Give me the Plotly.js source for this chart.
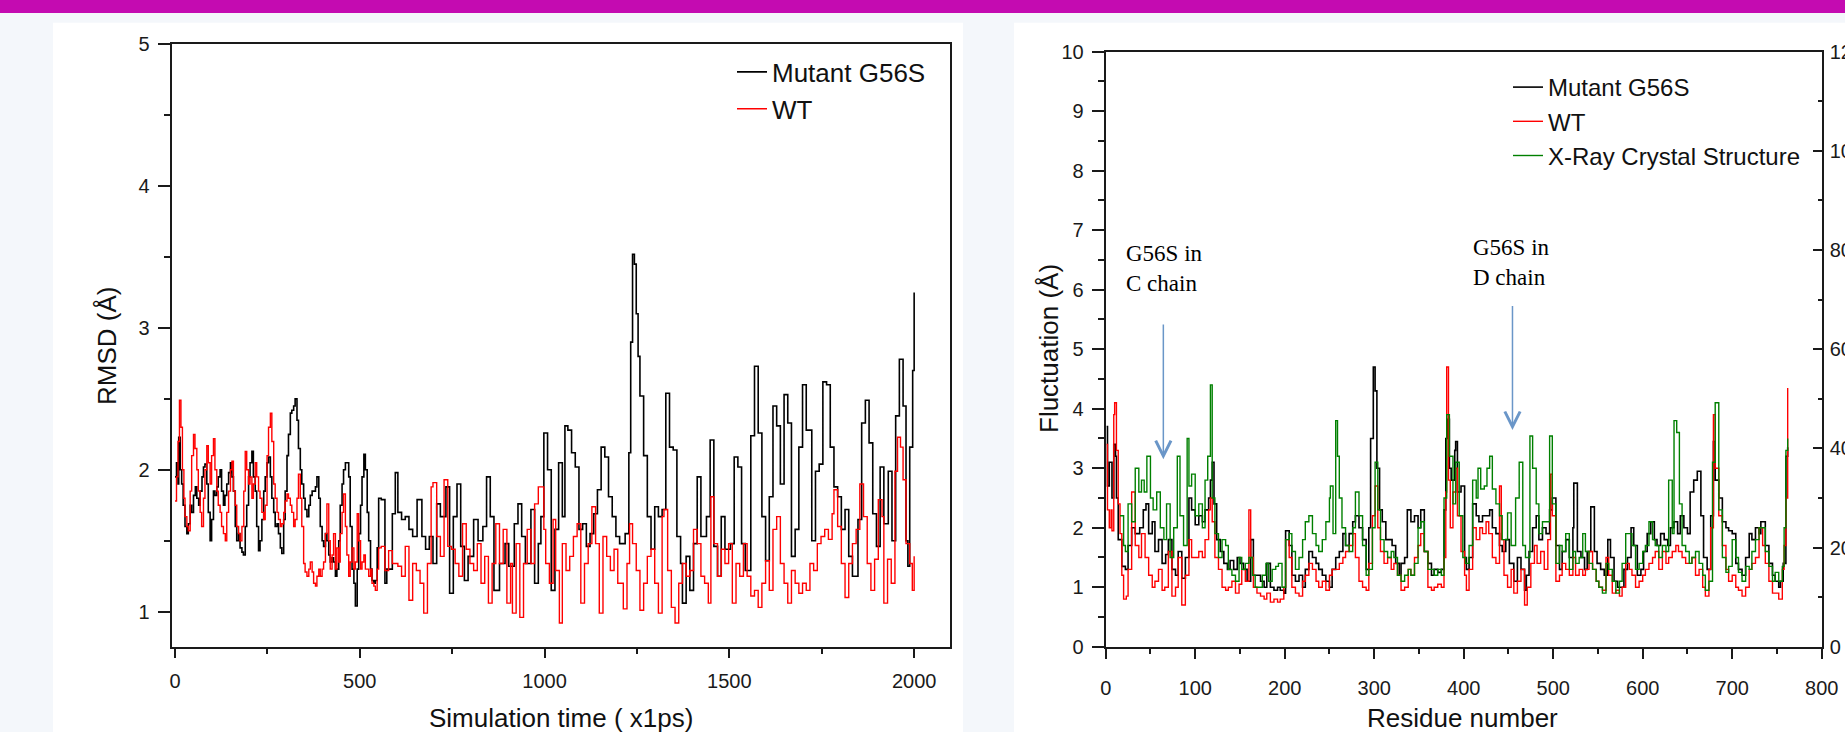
<!DOCTYPE html>
<html>
<head>
<meta charset="utf-8">
<script src="https://cdn.plot.ly/plotly-3.0.1.min.js"></script>
<style>
  html, body { margin: 0; padding: 0; background: #f4f7fb; }
  #chart { width: 1845px; height: 732px; }
</style>
</head>
<body>
<div id="chart"></div>
<script>
// ---------------- Left panel: RMSD vs simulation time ----------------
const rmsdTimeMutant = [
  0,4,8,10,14,18,22,27,32,36,
  41,45,50,55,59,64,68,73,77,81,
  86,90,95,99,104,108,113,117,122,126,
  131,135,140,145,150,154,158,163,167,172,
  176,181,185,190,194,199,203,208,212,217,
  221,226,230,235,240,244,249,253,258,262,
  267,271,276,280,285,289,294,298,303,307,
  312,316,321,325,330,334,339,343,348,352,
  357,362,366,371,375,380,384,389,393,398,
  402,407,411,416,420,425,429,434,438,443,
  447,452,456,461,465,470,474,479,484,488,
  493,497,502,506,511,515,520,524,529,533,
  538,542,547,551,558,568,573,588,596,603,
  613,623,633,643,655,668,678,688,698,708,
  718,733,743,753,763,773,783,793,808,820,
  833,843,853,863,878,893,903,918,928,938,
  948,963,973,983,990,998,1008,1018,1028,1038,
  1048,1055,1063,1073,1083,1093,1103,1113,1123,1133,
  1143,1153,1163,1173,1183,1193,1203,1218,1228,1233,
  1238,1243,1248,1253,1258,1268,1278,1288,1298,1308,
  1318,1328,1338,1348,1358,1368,1373,1383,1393,1403,
  1413,1423,1438,1448,1458,1468,1478,1488,1503,1513,
  1523,1533,1543,1558,1568,1578,1588,1598,1608,1618,
  1628,1638,1648,1658,1668,1678,1688,1698,1708,1723,
  1733,1743,1753,1763,1773,1783,1793,1803,1813,1823,
  1833,1848,1858,1868,1878,1888,1898,1908,1918,1930,
  1940,1950,1960,1970,1978,1983,1988,1996,2000
];
const rmsdMutant = [
  1.95,2.05,1.9,2.23,2.0,1.9,1.75,1.6,1.55,1.62,
  1.75,1.7,1.82,1.88,1.8,1.75,1.85,1.95,2.02,2.04,
  1.9,1.7,1.5,1.65,1.85,1.82,1.88,1.95,2.0,1.85,
  1.75,1.82,1.9,1.98,2.05,1.95,1.85,1.6,1.5,1.55,
  1.45,1.42,1.4,1.6,1.75,1.95,2.05,2.13,1.95,1.85,
  1.6,1.43,1.5,1.65,1.85,1.95,2.05,2.09,1.95,1.8,
  1.7,1.6,1.62,1.55,1.45,1.41,1.65,1.85,2.1,2.25,
  2.4,2.42,2.45,2.5,2.35,2.15,2.0,1.9,1.8,1.72,
  1.67,1.75,1.82,1.85,1.85,1.88,1.95,1.8,1.6,1.5,
  1.46,1.55,1.5,1.4,1.35,1.38,1.35,1.25,1.3,1.5,
  1.75,1.9,2.0,2.05,2.05,1.95,1.6,1.3,1.2,1.04,
  1.3,1.55,1.75,1.95,2.11,2.0,1.7,1.5,1.3,1.22,
  1.2,1.22,1.45,1.8,1.79,1.2,1.3,1.69,1.98,1.7,
  1.65,1.67,1.58,1.53,1.79,1.53,1.44,1.53,1.34,1.76,
  1.67,1.88,1.13,1.67,1.9,1.46,1.22,1.39,1.65,1.5,
  1.6,1.95,1.67,1.15,1.34,1.48,1.32,1.62,1.76,1.53,
  1.34,1.72,1.2,1.48,1.67,2.26,2.0,1.15,1.58,2.05,
  1.67,2.31,2.28,2.12,2.02,1.58,1.62,1.46,1.55,1.69,
  1.86,2.16,2.09,1.81,1.67,1.53,1.48,1.55,2.12,2.9,
  3.52,3.45,3.1,2.8,2.52,2.1,1.67,1.44,1.74,1.67,
  1.72,2.54,2.16,2.14,1.53,1.34,1.06,1.39,1.15,1.48,
  1.95,1.53,1.67,2.21,1.46,1.25,1.67,1.44,1.48,2.09,
  2.02,1.48,1.29,2.24,2.73,2.26,1.67,1.36,1.81,2.45,
  2.31,1.9,2.53,2.33,1.39,1.58,2.16,2.6,2.28,1.5,
  1.99,2.04,2.62,2.6,2.16,1.88,1.81,1.58,1.72,1.39,
  1.25,1.65,2.33,2.49,2.19,1.69,1.46,2.02,1.62,1.99,
  1.5,2.38,2.78,2.45,1.5,1.32,2.16,2.7,3.25
];
const rmsdTimeWT = [
  0,4,8,12,16,20,24,27,32,36,
  41,45,50,54,59,63,68,72,77,81,
  86,90,95,99,104,108,113,117,122,126,
  131,136,140,145,150,154,158,163,167,172,
  176,181,186,190,194,199,203,208,212,217,
  221,226,230,235,240,244,249,253,258,262,
  267,271,276,280,285,289,294,298,303,307,
  312,316,321,325,330,334,339,343,348,352,
  357,362,366,371,375,380,384,389,393,398,
  402,407,411,416,420,425,429,434,438,443,
  447,452,456,461,465,470,474,479,484,488,
  493,497,502,506,511,515,520,524,529,533,
  538,542,547,551,558,568,578,588,603,613,
  623,633,643,653,663,673,683,693,698,708,
  718,728,738,748,758,768,778,788,798,808,
  818,828,838,848,858,868,878,888,898,908,
  913,923,933,943,953,963,973,983,998,1003,
  1013,1023,1030,1040,1048,1058,1068,1078,1088,1098,
  1108,1118,1128,1138,1148,1158,1168,1178,1188,1198,
  1213,1223,1230,1238,1248,1258,1268,1278,1288,1298,
  1308,1318,1323,1333,1343,1353,1363,1373,1383,1393,
  1403,1413,1423,1433,1443,1450,1458,1468,1478,1488,
  1498,1508,1518,1528,1538,1548,1558,1568,1578,1588,
  1598,1608,1618,1628,1638,1648,1658,1668,1678,1688,
  1698,1708,1718,1728,1738,1748,1758,1768,1778,1783,
  1793,1803,1813,1823,1833,1843,1853,1863,1873,1883,
  1893,1903,1913,1918,1928,1938,1948,1955,1963,1970,
  1978,1988,1995,2000
];
const rmsdWT = [
  1.78,1.95,2.2,2.49,2.3,2.0,1.8,1.67,1.6,1.57,
  1.85,2.1,2.25,2.15,2.0,1.85,1.7,1.6,1.8,2.0,
  2.17,2.05,1.9,2.1,2.22,2.0,1.85,1.75,1.7,1.6,
  1.55,1.5,1.7,1.85,2.0,2.06,1.85,1.75,1.6,1.55,
  1.5,1.6,1.85,2.13,2.0,1.9,1.95,1.8,1.9,2.05,
  1.95,1.85,1.8,1.7,1.65,1.75,2.1,2.3,2.4,2.2,
  1.9,1.8,1.7,1.65,1.6,1.62,1.7,1.78,1.83,1.8,
  1.75,1.7,1.6,1.65,1.8,1.97,1.8,1.6,1.34,1.28,
  1.25,1.3,1.35,1.28,1.2,1.18,1.25,1.3,1.25,1.3,
  1.35,1.55,1.76,1.5,1.3,1.4,1.55,1.3,1.45,1.35,
  1.55,1.7,1.83,1.6,1.4,1.25,1.35,1.45,1.3,1.35,
  1.69,1.5,1.3,1.35,1.4,1.3,1.3,1.25,1.3,1.2,
  1.18,1.15,1.3,1.45,1.46,1.29,1.43,1.34,1.32,1.25,
  1.46,1.08,1.34,1.29,1.2,0.99,1.34,1.88,1.91,1.53,
  1.39,1.93,1.46,1.44,1.34,1.25,1.62,1.44,1.34,1.29,
  1.48,1.2,1.39,1.06,1.34,1.62,1.34,1.58,1.06,1.34,
  0.99,1.48,0.96,1.34,1.58,1.34,1.76,1.88,1.58,1.34,
  1.2,1.65,1.29,0.92,1.48,1.29,1.39,1.53,1.62,1.06,
  1.34,1.48,1.74,1.48,0.99,1.53,1.39,1.29,1.44,1.2,
  1.02,1.34,1.62,1.48,1.29,1.01,1.2,1.39,1.44,1.2,
  0.99,1.67,1.72,1.29,1.03,0.92,1.2,1.34,1.25,1.29,
  1.58,1.48,1.25,1.2,1.06,1.81,1.48,1.25,1.44,1.34,
  1.48,1.06,1.34,1.25,1.48,1.25,1.11,1.15,1.03,1.2,
  1.36,1.15,1.58,1.67,1.34,1.2,1.06,1.29,1.2,1.13,
  1.2,1.15,1.34,1.29,1.48,1.53,1.58,1.51,1.69,1.86,
  1.6,1.34,1.1,1.34,1.48,1.58,1.9,1.67,1.34,1.15,
  1.37,1.79,1.67,1.06,1.37,1.2,1.99,2.23,2.16,1.93,
  1.48,1.34,1.15,1.39
];

// ---------------- Right panel: fluctuation vs residue number ----------------
const residueMutant = [
  1,2,4,7,9,11,12,14,18,22,
  25,29,33,38,42,45,48,52,55,59,
  63,67,70,74,78,81,85,89,93,96,
  100,104,108,111,115,117,119,121,124,128,
  132,136,139,143,147,150,154,158,162,165,
  169,173,177,180,184,188,192,195,199,201,
  205,208,212,216,220,223,227,231,235,238,
  242,246,250,253,257,261,265,268,272,276,
  279,283,287,291,294,296,299,301,303,306,
  309,313,317,320,324,328,330,334,337,341,
  345,349,352,356,360,364,367,371,375,378,
  380,382,384,386,390,391,393,397,401,403,
  406,410,414,417,421,425,429,432,436,440,
  443,447,451,456,460,464,468,470,473,477,
  481,484,488,492,496,499,503,507,510,514,
  518,522,523,527,531,535,538,542,546,549,
  553,557,561,564,568,572,576,579,583,587,
  590,594,598,601,605,609,613,616,620,624,
  628,631,635,639,642,646,650,653,657,661,
  665,668,672,676,679,681,685,689,693,696,
  700,704,707,711,715,719,722,726,730,732,
  737,741,745,748,752,754,757,760,762
];
const flucMutant = [
  3.7,2.7,3.1,2.5,3.4,3.2,2.5,1.8,1.35,1.3,
  1.7,2.0,1.9,2.0,2.3,2.4,1.9,2.1,1.6,1.8,
  1.4,1.55,1.8,1.3,1.2,1.6,1.15,1.5,2.5,2.3,
  2.05,2.2,2.1,2.3,2.5,2.8,3.1,2.4,1.8,1.6,
  1.4,1.3,1.45,1.3,1.5,1.4,1.3,1.1,1.8,1.2,
  1.2,1.1,1.0,1.4,1.0,0.95,1.0,0.95,0.9,1.95,
  1.7,1.2,1.1,1.2,1.0,1.3,1.6,1.5,1.4,1.3,
  1.2,1.1,1.0,1.3,1.5,1.6,1.9,1.7,1.9,2.1,
  2.2,2.0,1.8,1.3,2.0,3.5,4.7,4.3,3.0,2.3,
  2.1,1.8,1.8,1.7,1.4,1.2,1.4,1.5,2.3,2.1,
  2.2,2.0,2.3,1.6,1.4,1.2,1.3,1.25,1.3,2.3,
  3.5,3.82,3.0,2.8,3.3,3.45,2.6,2.7,1.5,1.3,
  1.5,2.4,2.2,2.1,2.2,2.2,2.3,2.0,1.9,1.7,
  1.6,1.8,1.4,1.1,1.5,1.3,0.95,1.2,1.6,2.0,
  2.2,1.8,2.0,1.9,2.3,2.5,1.7,1.3,1.6,1.8,
  1.5,2.0,2.75,1.6,1.5,1.3,1.6,2.35,1.6,1.4,
  1.3,1.2,1.8,1.5,1.1,1.0,1.0,1.3,1.5,2.0,
  1.7,1.2,1.3,1.6,1.9,2.1,1.8,1.7,1.9,1.8,
  1.7,2.0,2.1,1.9,2.2,2.0,1.9,2.6,2.8,2.95,
  2.2,1.5,1.3,2.2,3.45,2.8,2.5,2.1,2.0,1.95,
  1.9,1.4,1.3,1.2,1.5,1.9,1.8,2.0,1.9,2.1,
  1.7,1.4,1.2,1.1,1.0,1.1,1.4,3.2,3.35
];
const residueWT = [
  1,2,4,6,7,9,10,12,14,16,
  18,20,23,25,29,33,37,40,44,48,
  52,55,59,63,66,70,74,78,81,85,
  89,93,96,100,104,108,111,115,117,119,
  122,126,130,134,137,141,145,149,152,156,
  160,162,165,169,173,177,180,184,188,192,
  195,199,201,205,208,212,216,220,223,227,
  231,235,238,242,246,250,253,257,261,265,
  268,272,276,279,283,287,291,294,298,301,
  304,307,311,315,319,322,326,330,334,338,
  341,345,349,352,356,360,364,367,371,375,
  378,380,381,383,385,388,391,393,397,401,
  403,406,410,414,418,421,425,428,432,436,
  440,442,445,449,453,456,460,464,468,471,
  475,479,482,486,490,494,497,499,503,507,
  510,514,518,522,525,529,533,536,540,544,
  548,551,555,559,562,566,570,574,577,581,
  585,588,592,596,600,603,607,611,614,618,
  622,626,629,633,637,640,644,648,652,655,
  659,663,667,670,674,676,679,681,685,689,
  693,696,700,704,707,711,715,719,722,726,
  730,734,737,741,745,748,752,756,758,760,
  762
];
const flucWT = [
  3.4,2.3,2.0,2.3,1.95,3.9,4.1,3.3,2.4,1.9,
  1.2,0.8,0.85,1.3,2.6,1.7,1.5,1.9,1.5,1.2,
  1.0,1.1,1.3,0.95,1.0,1.6,0.85,1.0,1.5,0.7,
  1.2,1.8,1.5,1.5,1.6,1.5,1.8,2.3,2.5,2.1,
  1.5,1.3,1.0,0.95,1.0,1.1,0.9,1.05,1.3,1.1,
  2.3,1.5,1.0,0.9,0.85,0.8,0.9,0.75,0.8,0.75,
  0.8,1.0,1.8,1.5,1.0,0.9,0.85,1.1,1.2,1.4,
  1.3,1.1,1.0,1.1,0.95,1.2,1.3,1.3,1.4,1.5,
  1.6,1.7,1.9,1.5,1.1,1.0,0.95,1.4,2.2,2.7,
  2.0,1.6,1.4,1.5,1.3,1.4,1.2,0.95,1.0,1.3,
  1.2,1.5,1.7,1.9,1.6,1.0,0.95,1.0,1.05,1.0,
  1.5,2.6,4.7,2.8,2.0,2.6,3.0,2.2,1.6,1.2,
  0.95,1.3,2.0,1.8,2.0,1.9,2.1,1.9,1.5,1.4,
  2.7,1.8,1.2,1.0,1.3,0.9,1.1,1.3,0.7,1.0,
  1.4,1.7,1.4,1.6,1.3,1.8,2.9,2.2,1.1,1.2,
  1.4,1.3,1.2,1.5,1.2,1.3,1.2,1.3,1.6,1.3,
  1.1,1.0,0.95,1.5,1.2,0.9,0.95,0.85,1.0,1.4,
  1.3,1.2,1.0,1.1,1.2,1.3,1.4,1.5,1.6,1.3,
  1.6,1.4,1.5,1.6,1.7,1.6,1.5,1.4,1.4,1.5,
  1.2,1.3,1.0,0.85,1.3,2.0,3.9,3.0,2.2,1.7,
  1.3,1.1,1.2,1.0,0.95,0.85,1.0,1.3,1.4,1.5,
  2.0,1.7,1.4,1.1,0.9,0.9,0.8,1.3,1.7,2.5,
  4.35
];
const residueXray = [
  16,20,22,25,29,33,37,40,43,46,
  50,53,57,61,65,68,72,76,80,83,
  87,91,93,96,100,104,108,111,114,117,
  119,122,126,130,134,137,141,145,149,152,
  156,160,164,167,171,175,179,182,186,190,
  193,197,201,205,208,212,216,220,223,227,
  231,235,238,242,246,250,251,254,257,259,
  261,264,268,272,276,279,283,287,291,294,
  298,301,304,307,311,315,319,322,326,330,
  334,338,341,345,349,352,356,360,364,367,
  371,375,378,381,384,388,391,395,399,402,
  406,410,414,416,419,423,426,429,432,436,
  440,443,449,453,458,462,466,469,474,477,
  481,484,488,491,496,499,503,507,510,514,
  518,522,525,529,533,536,540,544,548,551,
  555,559,562,566,570,574,577,581,585,588,
  592,596,600,603,607,611,614,618,622,626,
  629,633,635,638,641,644,648,652,655,659,
  663,667,670,674,678,681,685,689,693,696,
  700,704,707,711,715,719,722,726,730,733,
  737,741,745,748,752,756,758,760,762
];
const flucXray = [
  2.2,1.7,1.6,2.4,2.1,3.0,2.6,2.8,2.6,3.2,
  2.5,2.3,2.6,2.0,1.8,2.4,1.5,2.0,3.2,2.2,
  1.7,3.5,2.7,2.9,2.2,2.4,2.0,2.8,3.2,4.4,
  2.5,1.9,1.5,1.8,1.7,1.3,1.2,1.1,1.5,1.3,
  1.4,1.5,1.2,1.0,1.0,1.2,1.4,1.1,1.3,1.35,
  1.4,1.0,1.8,1.9,1.6,1.3,1.5,1.8,2.1,2.2,
  1.9,1.7,1.6,1.8,2.1,2.5,2.7,1.9,3.8,3.2,
  2.5,2.0,1.7,1.6,2.0,2.6,2.2,1.7,1.2,1.3,
  2.0,3.1,2.3,1.8,1.6,1.5,1.6,1.5,1.2,1.1,
  1.2,1.3,1.2,1.4,2.0,2.1,1.6,1.3,1.3,1.2,
  1.3,1.2,2.5,3.9,3.2,2.4,3.1,2.2,1.5,1.4,
  1.7,2.8,2.5,3.0,2.65,2.7,3.0,3.2,2.65,2.4,
  2.2,1.8,2.25,1.7,2.5,3.1,1.7,1.5,3.54,3.0,
  2.4,1.9,2.1,2.1,3.54,2.4,1.4,1.7,1.6,1.9,
  1.3,1.6,1.4,1.5,1.9,1.6,1.4,1.3,1.1,1.0,
  0.9,1.4,1.3,1.1,0.9,1.1,1.4,1.9,1.9,1.7,
  1.3,1.4,1.6,1.7,2.1,1.8,1.7,1.5,1.7,1.6,
  2.8,1.9,3.8,3.6,2.4,1.7,1.6,1.4,1.5,1.6,
  1.4,1.2,0.95,1.1,3.1,4.1,2.3,1.5,1.25,1.35,
  1.8,1.5,1.25,1.1,1.35,1.3,1.6,1.8,2.0,2.0,
  1.6,1.35,1.1,1.25,1.1,1.35,2.0,3.3,3.5
];

const seriesNames = ["Mutant G56S", "WT", "X-Ray Crystal Structure"];
const seriesColors = ["#000000", "#ff0000", "#008000"];

// ---------------- figure ----------------
const W = 1845, H = 732;
const px = v => v / W;           // pixel -> paper x
const py = v => (H - v) / H;     // pixel -> paper y
const SANS = "Liberation Sans, Arial, sans-serif";
const SERIF = "Liberation Serif, Times New Roman, serif";
const AX = "#1a1a1a";

const traces = [
  { x: rmsdTimeMutant, y: rmsdMutant, name: seriesNames[0], type: "scatter", mode: "lines",
    line: { color: seriesColors[0], width: 1.6, shape: "hv" }, xaxis: "x", yaxis: "y", legend: "legend" },
  { x: rmsdTimeWT, y: rmsdWT, name: seriesNames[1], type: "scatter", mode: "lines",
    line: { color: seriesColors[1], width: 1.4, shape: "hv" }, xaxis: "x", yaxis: "y", legend: "legend" },
  { x: residueMutant, y: flucMutant, name: seriesNames[0], type: "scatter", mode: "lines",
    line: { color: seriesColors[0], width: 1.6, shape: "hv" }, xaxis: "x2", yaxis: "y2", legend: "legend2" },
  { x: residueWT, y: flucWT, name: seriesNames[1], type: "scatter", mode: "lines",
    line: { color: seriesColors[1], width: 1.4, shape: "hv" }, xaxis: "x2", yaxis: "y2", legend: "legend2" },
  { x: residueXray, y: flucXray, name: seriesNames[2], type: "scatter", mode: "lines",
    line: { color: seriesColors[2], width: 1.4, shape: "hv" }, xaxis: "x2", yaxis: "y2", legend: "legend2" },
  // empty carrier so the secondary right-hand axis is drawn
  { x: [], y: [], type: "scatter", mode: "lines", xaxis: "x2", yaxis: "y3",
    showlegend: false, hoverinfo: "skip" }
];

const baseAxis = {
  showline: true, linewidth: 2, linecolor: AX,
  ticks: "outside", tickwidth: 2, tickcolor: AX,
  showgrid: false, zeroline: false,
  tickfont: { family: SANS, size: 20, color: AX }
};

const layout = {
  width: W, height: H,
  margin: { l: 0, r: 0, t: 0, b: 0, pad: 0 },
  paper_bgcolor: "#f4f7fb",
  plot_bgcolor: "#ffffff",
  font: { family: SANS, color: AX },
  xaxis: Object.assign({}, baseAxis, {
    domain: [px(171.7), px(950)], range: [-9, 2097], anchor: "y", mirror: true,
    tick0: 0, dtick: 500, ticklen: 9, ticklabelstandoff: 6,
    minor: { dtick: 250, ticklen: 5, tickwidth: 2, tickcolor: AX, ticks: "outside" }
  }),
  yaxis: Object.assign({}, baseAxis, {
    domain: [py(646.7), py(44.3)], range: [0.753, 5], anchor: "x", mirror: true,
    tick0: 0, dtick: 1, ticklen: 12, ticklabelstandoff: 4,
    minor: { dtick: 0.5, ticklen: 6, tickwidth: 2, tickcolor: AX, ticks: "outside" }
  }),
  xaxis2: Object.assign({}, baseAxis, {
    domain: [px(1105.7), px(1821.7)], range: [0, 800], anchor: "y2", mirror: true,
    tick0: 0, dtick: 100, ticklen: 10, ticklabelstandoff: 12,
    minor: { dtick: 50, ticklen: 5, tickwidth: 2, tickcolor: AX, ticks: "outside" }
  }),
  yaxis2: Object.assign({}, baseAxis, {
    domain: [py(646.7), py(51.7)], range: [0, 10], anchor: "x2",
    tick0: 0, dtick: 1, ticklen: 12, ticklabelstandoff: 4,
    minor: { dtick: 0.5, ticklen: 6, tickwidth: 2, tickcolor: AX, ticks: "outside" }
  }),
  yaxis3: Object.assign({}, baseAxis, {
    overlaying: "y2", side: "right", anchor: "x2", range: [0, 120],
    tick0: 0, dtick: 20, ticks: "inside", ticklen: 9, ticklabelstandoff: 2,
    minor: { dtick: 10, ticklen: 4, tickwidth: 2, tickcolor: AX, ticks: "inside" }
  }),
  legend: {
    x: px(732), y: py(48.5), xanchor: "left", yanchor: "top",
    bgcolor: "rgba(0,0,0,0)", font: { family: SANS, size: 26, color: "#111" },
    tracegroupgap: 0
  },
  legend2: {
    x: px(1508), y: py(65), xanchor: "left", yanchor: "top",
    bgcolor: "rgba(0,0,0,0)", font: { family: SANS, size: 24, color: "#111" },
    tracegroupgap: 0
  },
  shapes: [
    { type: "rect", xref: "paper", yref: "paper", x0: 0, x1: 1, y0: py(13), y1: 1,
      fillcolor: "#c40bb1", line: { width: 0 }, layer: "below" },
    { type: "rect", xref: "paper", yref: "paper", x0: px(53), x1: px(963), y0: 0, y1: py(22.7),
      fillcolor: "#ffffff", line: { width: 0 }, layer: "below" },
    { type: "rect", xref: "paper", yref: "paper", x0: px(1014), x1: 1, y0: 0, y1: py(22.7),
      fillcolor: "#ffffff", line: { width: 0 }, layer: "below" }
  ],
  annotations: [
    { text: "RMSD (Å)", xref: "paper", yref: "paper", x: px(107), y: py(346),
      xanchor: "center", yanchor: "middle",
      textangle: -90, showarrow: false, font: { family: SANS, size: 26, color: "#111" } },
    { text: "Simulation time ( x1ps)", xref: "paper", yref: "paper", x: px(561), y: py(718),
      xanchor: "center", yanchor: "middle",
      showarrow: false, font: { family: SANS, size: 26, color: "#111" } },
    { text: "Fluctuation (Å)", xref: "paper", yref: "paper", x: px(1049), y: py(349),
      xanchor: "center", yanchor: "middle",
      textangle: -90, showarrow: false, font: { family: SANS, size: 26, color: "#111" } },
    { text: "Residue number", xref: "paper", yref: "paper", x: px(1462), y: py(718),
      xanchor: "center", yanchor: "middle",
      showarrow: false, font: { family: SANS, size: 26, color: "#111" } },
    { text: "G56S in<br>C chain", xref: "x2", yref: "y2", x: 20, y: 6.35,
      xanchor: "left", yanchor: "middle", align: "left", showarrow: false,
      font: { family: SERIF, size: 23, color: "#000" } },
    { text: "G56S in<br>D chain", xref: "x2", yref: "y2", x: 407.8, y: 6.46,
      xanchor: "left", yanchor: "middle", align: "left", showarrow: false,
      font: { family: SERIF, size: 23, color: "#000" } },
    { text: "", xref: "x2", yref: "y2", x: 64.4, y: 3.15, axref: "x2", ayref: "y2", ax: 64.4, ay: 5.44,
      showarrow: true, arrowhead: 5, arrowsize: 2, arrowwidth: 1.5, arrowcolor: "#6a96c8", standoff: 0 },
    { text: "", xref: "x2", yref: "y2", x: 454.5, y: 3.64, axref: "x2", ayref: "y2", ax: 454.5, ay: 5.75,
      showarrow: true, arrowhead: 5, arrowsize: 2, arrowwidth: 1.5, arrowcolor: "#6a96c8", standoff: 0 }
  ]
};

Plotly.newPlot("chart", traces, layout, { displayModeBar: false, staticPlot: true });
</script>
</body>
</html>
